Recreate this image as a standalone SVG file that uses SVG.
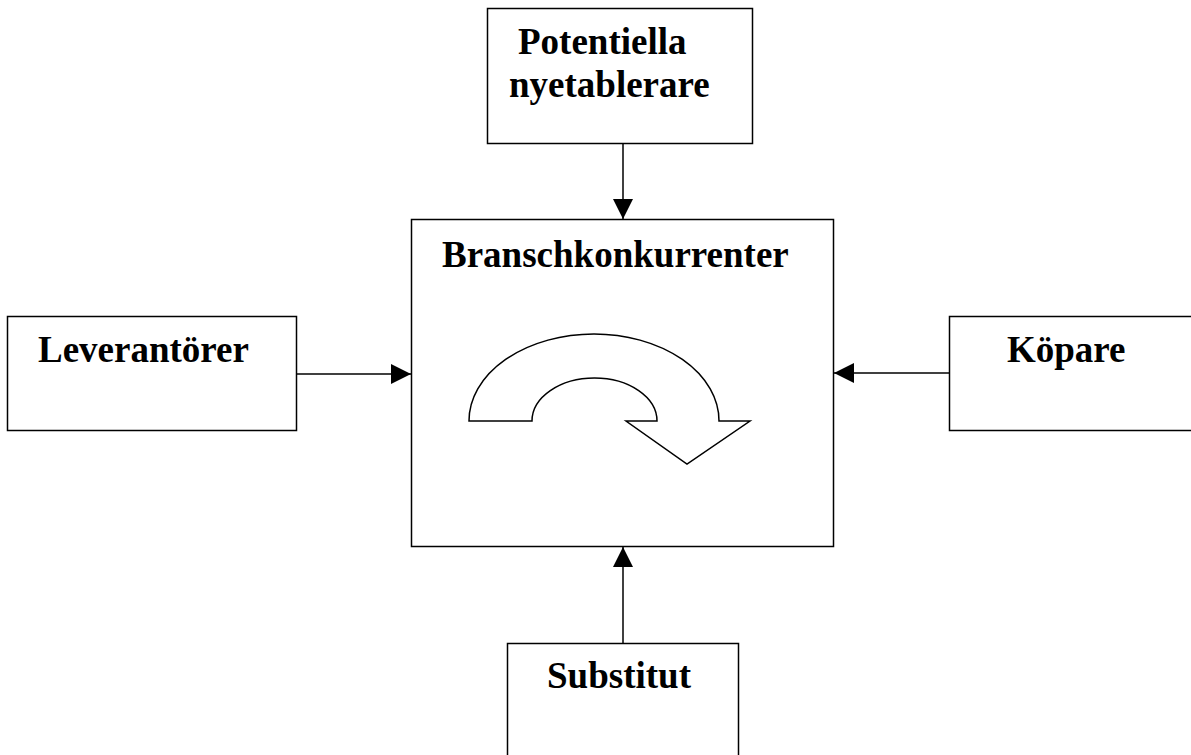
<svg xmlns="http://www.w3.org/2000/svg" width="1191" height="755" viewBox="0 0 1191 755">
<style>
.box{fill:#fff;stroke:#000;stroke-width:1.5}
.lbl{font-family:"Liberation Serif","Times New Roman",serif;font-weight:bold;font-size:37px;fill:#000}
.con{stroke:#000;stroke-width:1.5;fill:none}
</style>
<defs>
<marker id="ah" viewBox="0 0 20 20" refX="20" refY="10" markerUnits="userSpaceOnUse" markerWidth="20" markerHeight="20" orient="auto">
<path d="M0,0 L20,10 L0,20 Z" fill="#000"/>
</marker>
</defs>
<rect width="1191" height="755" fill="#fff"/>
<g id="connectors">
<line class="con" x1="623" y1="143" x2="623" y2="219" marker-end="url(#ah)"/>
<line class="con" x1="296" y1="374" x2="411" y2="374" marker-end="url(#ah)"/>
<line class="con" x1="949" y1="373" x2="834" y2="373" marker-end="url(#ah)"/>
<line class="con" x1="623" y1="643" x2="623" y2="547" marker-end="url(#ah)"/>
</g>
<g id="node-branschkonkurrenter">
<rect class="box" x="411.5" y="219.5" width="422" height="327"/>
<text class="lbl" x="442" y="267">Branschkonkurrenter</text>
<path class="con" d="M469,421 A125,87 0 0 1 719,421 L750,421 L687,464 L626,421 L657,421 A62.5,43 0 0 0 532,421 Z" fill="#fff"/>
</g>
<g id="node-potentiella">
<rect class="box" x="487.5" y="8.5" width="265" height="135"/>
<text class="lbl" x="518" y="54">Potentiella</text>
<text class="lbl" x="509" y="97">nyetablerare</text>
</g>
<g id="node-leverantorer">
<rect class="box" x="7.5" y="316.5" width="289" height="114"/>
<text class="lbl" x="38" y="362">Leverantörer</text>
</g>
<g id="node-kopare">
<rect class="box" x="949.5" y="316.5" width="260" height="114"/>
<text class="lbl" x="1007" y="362">Köpare</text>
</g>
<g id="node-substitut">
<rect class="box" x="507.5" y="643.5" width="231" height="130"/>
<text class="lbl" x="547" y="688">Substitut</text>
</g>
</svg>
